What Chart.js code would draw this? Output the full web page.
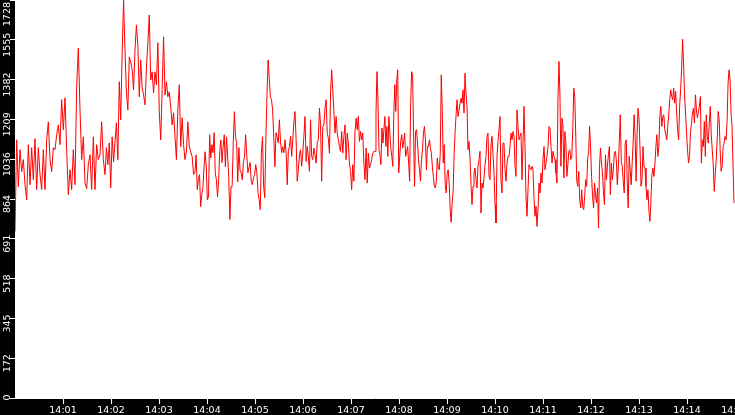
<!DOCTYPE html>
<html><head><meta charset="utf-8">
<script src="https://cdn.jsdelivr.net/npm/chart.js@4.4.1/dist/chart.umd.min.js"></script>
<style>html,body{margin:0;padding:0;background:#000;overflow:hidden}canvas{display:block}</style>
</head><body>
<canvas id="c" width="735" height="415"></canvas>
<script>
const xTickSeconds = [60,120,180,240,300,360,420,480,540,600,660,720,780,840,900];
const xTickLabels = ["14:01","14:02","14:03","14:04","14:05","14:06","14:07","14:08","14:09","14:10","14:11","14:12","14:13","14:14","14:15"];
const yTickValues = [0,172.8,345.6,518.4,691.2,864,1036.8,1209.6,1382.4,1555.2,1728];
const yTickLabels = ["0","172","345","518","691","864","1036","1209","1382","1555","1728"];

// samples, segment by segment (each segment = 112.5 s = 1m52.5s)
const seg1 = [723,1121,918,1078,983,1035,926,861,1100,926,1087,948,1126,905,1087,970,905,1078,905,1121,1199,1035,983,1087,1078,1143,1186,1100,1295,1165,1303,1078,883,991,905,1078,926,1351,1520,1251,1035,1134,935,909,1013,1056,905,1134,905,1100,1035,1056,1199,1035];
const seg2 = [970,1087,1013,1108,913,1134,1026,1113,1195,1035,1373,1208,1498,1728,1511,1325,1251,1481,1459,1425,1338,1511,1620,1533,1308,1468,1347,1316,1273,1433,1542,1663,1381,1416,1325,1416,1360,1542,1243,1121,1338,1568,1316,1373,1308,1329,1264,1186,1238,1134,1035,1251,1360,1091,1217,1100,1035,1069,1199,1091,1069,1048,970];
const seg3 = [983,1056,905,948,970,831,883,913,1000,1069,1004,861,874,1143,1043,1100,1065,1152,978,948,874,948,1069,1121,1022,1091,1143,1004,1134,1048,957,775,918,918,1108,1243,1134,1108,939,1087,991,978,948,1022,1048,1143,1056,978,1000,1022,939,926,957,970,1013,978,892,861,818,1065,1134,918,870,1130,1316,1468,1390,1308,1295,1251,1134,1004,1152,1134,1108,1208,1113,1065,1091,1065];
const seg4 = [1121,1063,926,1071,1092,1136,1049,1121,1201,1244,1121,941,991,1056,1078,1006,1063,1136,1222,1027,1092,1049,984,1208,1049,1035,1085,1056,1020,1107,1121,1258,1186,941,1179,1186,1258,1295,1150,1128,1063,1324,1425,1338,1244,1150,1222,1150,1121,1092,1071,1157,1063,1136,1186,1035,1150,1107,1020,984,904,1013,941,1157,1215,1165,1222,1114,1157,1121,1150,1020,948,1085,933,1063,998,1013,1035,1063,1071];
const seg5 = [1071,1237,1417,1295,1078,1056,1013,1172,1107,1165,1222,1092,1179,1049,1222,1150,1085,1049,1006,1230,1360,1244,1381,1425,977,1049,1114,1143,1085,1114,1150,1049,1071,1092,1020,941,1266,1417,1403,1150,919,1157,1165,1107,1035,991,941,1035,1078,1150,1179,1121,991,1092,1092,1121,1085,1063,1006,962,919,912,941,1042,998,991,1063,1403,1251,1020,1100,926,890,977,991,933,818,763,847,897,1056,1157,1230,1295,1222,1251,1280,1302,1280,1338,1237];
const seg6 = [1410,1324,1266,1078,1114,1042,926,840,919,977,998,948,912,1006,1035,1071,803,933,912,955,1013,1049,1136,1150,962,948,1100,1136,1056,977,840,760,1049,1114,1165,1222,941,890,1107,1107,991,941,1020,1049,1049,1092,1150,1121,1157,1136,1006,962,1251,1179,1121,1136,1150,948,1107,1266,1092,876,789,904,1013,998,991,1006,991,868,789,832,745,818,933,890,977,933,1035,1092,991,1020,1049,1092,1179,1172,1092,1020,1071,1049];
const seg7 = [1035,977,933,1295,1461,1316,1006,1215,1186,955,1157,1107,962,1013,1071,1078,1035,1049,1172,1345,1309,1136,941,919,984,861,825,904,832,818,876,948,919,1035,1071,1179,1085,962,876,825,933,876,847,912,738,1006,1085,1020,977,897,840,1056,948,1006,1056,1092,883,1020,948,991,1063,1071,1035,926,998,1114,1230,1027,1006,941,890,1107,1121,948,825,1049,991,926,1020,1107,1230,1136,941,1143,1258,1208,1078,919,948,1092,1006];
const seg8 = [998,919,861,904,811,767,854,970,998,962,1013,1092,1143,1049,1092,1222,1266,1179,1222,1230,1165,1143,1121,1179,1230,1295,1338,1309,1295,1345,1280,1331,1237,1165,1121,1266,1338,1425,1558,1453,1316,1237,1150,1078,1020,1049,1150,1193,1237,1258,1193,1316,1251,1215,1244,1266,1309,1020,1121,1092,1201,1049,1230,1136,1107,1193,1266,1143,1078,1013,897,970,1035,1121,1244,1208,1078,984,1006,1092,1107,1136,1121,1201,1367,1425,1381,1237,1179,1013,847];

const segments = [seg1, seg2, seg3, seg4, seg5, seg6, seg7, seg8];
const SEG_SECONDS = 112.5;
const points = [];
segments.forEach((seg, k) => seg.forEach((v, i) => points.push({x: k * SEG_SECONDS + i * SEG_SECONDS / seg.length, y: v})));

const framePlugin = {
  id: 'frame',
  beforeDraw(chart) {
    const {ctx, chartArea: a} = chart;
    ctx.save();
    ctx.fillStyle = '#000';
    ctx.fillRect(0, 0, chart.width, chart.height);
    ctx.fillStyle = '#fff';
    ctx.fillRect(a.left, a.top, a.right - a.left, a.bottom - a.top);
    ctx.restore();
  },
  afterDraw(chart) {
    const ctx = chart.ctx, ys = chart.scales.y, a = chart.chartArea;
    ctx.save();
    ctx.fillStyle = '#fff';
    ctx.font = '9.5px "DejaVu Sans"';
    ctx.textAlign = 'center';
    ctx.textBaseline = 'alphabetic';
    yTickValues.forEach((v, i) => {
      const label = yTickLabels[i];
      const w = ctx.measureText(label).width;
      let c = ys.getPixelForValue(v) + 5;
      c = Math.max(c, a.top + 2 + w / 2);
      c = Math.min(c, a.bottom + 2.5 - w / 2);
      ctx.save();
      ctx.translate(10, c);
      ctx.rotate(-Math.PI / 2);
      ctx.fillText(label, 0, 0);
      ctx.restore();
    });
    ctx.restore();
  }
};

new Chart(document.getElementById('c'), {
  type: 'line',
  data: { datasets: [{ data: points, borderColor: '#ff0000', borderWidth: 1, pointRadius: 0, tension: 0, fill: false }] },
  options: {
    responsive: false, animation: false, devicePixelRatio: 1,
    layout: { padding: 0 },
    plugins: { legend: { display: false }, tooltip: { enabled: false } },
    scales: {
      x: {
        type: 'linear', min: 0, max: 900,
        afterBuildTicks: s => { s.ticks = xTickSeconds.map(v => ({value: v})); },
        afterFit: s => { s.height = 17; s.paddingLeft = 0; s.paddingRight = 0; },
        ticks: { color: '#fff', font: {family: 'DejaVu Sans', size: 9.5}, padding: 1, maxRotation: 0, minRotation: 0, autoSkip: false,
                 callback: v => xTickLabels[xTickSeconds.indexOf(v)] },
        grid: { drawOnChartArea: false, drawTicks: true, tickLength: 6, color: '#fff', lineWidth: 1 },
        border: { display: true, color: '#fff', width: 1 }
      },
      y: {
        min: 0, max: 1728,
        afterBuildTicks: s => { s.ticks = yTickValues.map(v => ({value: v})); },
        afterFit: s => { s.width = 15; s.paddingTop = 0; s.paddingBottom = 0; },
        ticks: { display: false },
        grid: { drawOnChartArea: false, drawTicks: true, tickLength: 5, color: '#fff', lineWidth: 1 },
        border: { display: false }
      }
    }
  },
  plugins: [framePlugin]
});
</script>
</body></html>
